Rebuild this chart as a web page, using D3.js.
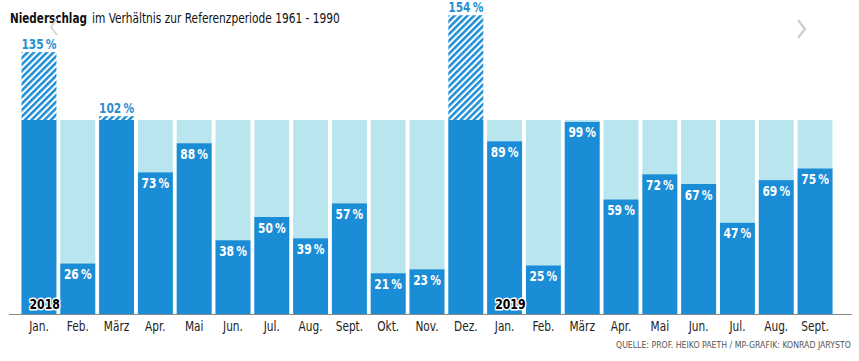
<!DOCTYPE html>
<html><head><meta charset="utf-8">
<script src="https://cdn.jsdelivr.net/npm/d3@7"></script>
<style>
html,body{margin:0;padding:0;background:#fff;}
svg{display:block;}
text{font-family:"DejaVu Sans Condensed","DejaVu Sans",sans-serif;}
</style></head>
<body>
<svg id="chart" width="859" height="361"></svg>
<script>
const months = ["Jan.","Feb.","März","Apr.","Mai","Jun.","Jul.","Aug.","Sept.","Okt.","Nov.","Dez.",
                "Jan.","Feb.","März","Apr.","Mai","Jun.","Jul.","Aug.","Sept."];
const values = [135,26,102,73,88,38,50,39,57,21,23,154,
                89,25,99,59,72,67,47,69,75];
const yearLabels = [{index:0,label:"2018"},{index:12,label:"2019"}];
const reference = 100;
const titleBold = "Niederschlag";
const titleRest = "im Verhältnis zur Referenzperiode 1961 - 1990";
const source = "QUELLE: PROF. HEIKO PAETH / MP-GRAFIK: KONRAD JARYSTO";

const dark = "#1b8dd6", light = "#b9e5ee", labelBlue = "#2a8fd0";
const svg = d3.select("#chart");
const base = 314;

const x = d3.scaleBand().domain(d3.range(values.length)).range([21.5, 832.5]).paddingInner(0.1).paddingOuter(0);
const y = d3.scaleLinear().domain([0, 100]).range([base, 120]);

const defs = svg.append("defs");
const pat = defs.append("pattern").attr("id","hatch").attr("patternUnits","userSpaceOnUse")
  .attr("width",4.6).attr("height",4.6).attr("patternTransform","rotate(45)");
pat.append("rect").attr("width",4.6).attr("height",4.6).attr("fill","#fff");
pat.append("rect").attr("x",0).attr("width",2.5).attr("height",4.6).attr("fill",dark);

// helper: fit text to a target width with a horizontal scale
function fitText(sel, x0, y0, target){
  const len = sel.node().getComputedTextLength();
  sel.attr("transform",`translate(${x0},${y0}) scale(${target/len},1)`);
}

// title (two parts)
fitText(svg.append("text").attr("font-size",14.5).attr("fill","#111").attr("font-weight","bold").text(titleBold), 10, 23, 77);
fitText(svg.append("text").attr("font-size",14.5).attr("fill","#111").text(titleRest), 92, 23, 248);

// light reference bars
svg.append("g").selectAll("rect").data(values).join("rect")
  .attr("x",(d,i)=>x(i)).attr("width",x.bandwidth())
  .attr("y",y(reference)).attr("height",base-y(reference)).attr("fill",light);

// dark bars
svg.append("g").selectAll("rect").data(values).join("rect")
  .attr("x",(d,i)=>x(i)).attr("width",x.bandwidth())
  .attr("y",d=>y(Math.min(d,reference))).attr("height",d=>base-y(Math.min(d,reference))).attr("fill",dark);

// hatched excess
svg.append("g").selectAll("rect").data(values.map((v,i)=>({v,i})).filter(d=>d.v>reference)).join("rect")
  .attr("x",d=>x(d.i)).attr("width",x.bandwidth())
  .attr("y",d=>y(d.v)).attr("height",d=>y(reference)-y(d.v)).attr("fill","url(#hatch)");

// value labels
svg.append("g").selectAll("text").data(values).join("text")
  .attr("transform",(d,i)=>`translate(${x(i)+x.bandwidth()/2},${d>reference ? y(d)-3 : y(d)+15.5}) scale(0.88,1)`)
  .attr("text-anchor","middle").attr("font-size",13.5).attr("font-weight","bold")
  .attr("fill",d=> d>reference ? labelBlue : "#fff")
  .text(d=>d+"\u2009%");

// axis line
svg.append("line").attr("x1",9).attr("x2",852).attr("y1",base+0.5).attr("y2",base+0.5)
  .attr("stroke","#8a8a8a").attr("stroke-width",1.2);

// month labels via axis
const axis = d3.axisBottom(x).tickSize(0).tickPadding(7).tickFormat(i=>months[i]);
const ag = svg.append("g").attr("transform",`translate(0,${base})`).call(axis);
ag.select(".domain").remove();
ag.selectAll("text").attr("font-size",14).attr("fill","#222")
  .attr("transform","scale(0.84,1)")
  .style("font-family",'"DejaVu Sans Condensed","DejaVu Sans",sans-serif');

// year labels
svg.append("g").selectAll("text").data(yearLabels).join("text")
  .attr("transform",d=>`translate(${x(d.index)+8},${base-5}) scale(0.9,1)`)
  .attr("font-size",13.5).attr("font-weight","bold").attr("fill","#000")
  .attr("stroke","#fff").attr("stroke-width",3).attr("paint-order","stroke").attr("stroke-linejoin","round")
  .text(d=>d.label);

// source
const src = svg.append("text").attr("font-size",8.5).attr("fill","#555").text(source);
fitText(src, 616, 348, 235);

// faint carousel arrows
svg.append("path").attr("d","M57,19 L51,27 L57,35").attr("fill","none").attr("stroke","#d8d8d8").attr("stroke-width",2);
svg.append("path").attr("d","M798,20 L805,29 L798,38").attr("fill","none").attr("stroke","#d0d0d0").attr("stroke-width",2.5);
</script>
</body></html>
